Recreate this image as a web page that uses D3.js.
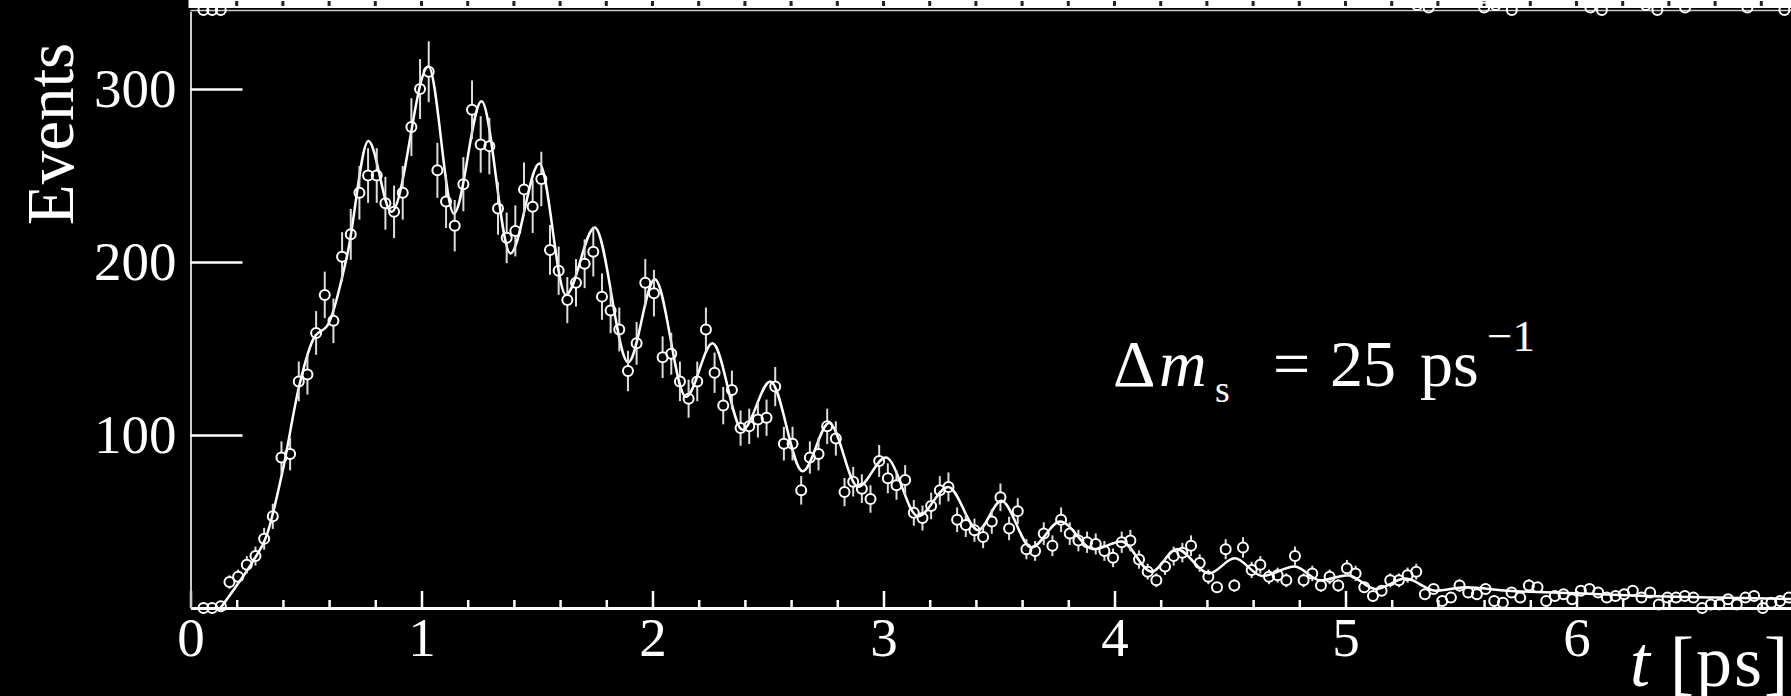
<!DOCTYPE html>
<html>
<head>
  <meta charset="UTF-8">
  <style>
    html, body { margin: 0; padding: 0; background: #000; }
    svg { display: block; }
    text { font-family: "Liberation Serif", "DejaVu Serif", serif; fill: #fff; }
  </style>
</head>
<body>
  <svg></svg>
<script src="https://d3js.org/d3.v7.min.js"></script>

<script>
let width = 1791,
    height = 696;

let svg = d3.select("svg")
    .attr("width", width)
    .attr("height", height);

svg.append("rect")
    .attr("width", width)
    .attr("height", height)
    .attr("fill", "#000");

// proper decay time histogram, bins of 0.0375 ps starting from the second bin
let binWidth = 0.0375;
let firstCenter = 0.05625;

let counts = [
  0, 0, 1, 15, 18, 25, 30, 40, 53, 87,
  89, 131, 135, 159, 181, 166, 203, 216, 240, 250,
  250, 234, 229, 240, 278, 300, 310, 253, 235, 221,
  245, 288, 268, 267, 231, 214, 218, 242, 232, 248,
  207, 195, 178, 188, 199, 206, 180, 172, 161, 137,
  153, 188, 182, 145, 147, 131, 121, 131, 161, 136,
  117, 126, 104, 105, 109, 110, 128, 95, 95, 68,
  87, 89, 105, 98, 67, 73, 69, 63, 85, 75,
  71, 74, 55, 52, 59, 68, 70, 51, 48, 45,
  41, 50, 64, 46, 56, 34, 33, 43, 36, 51,
  43, 39, 38, 37, 33, 29, 38, 39, 28, 21,
  16, 24, 30, 32, 36, 26, 18, 12, 34, 13,
  35, 22, 25, 18, 19, 16, 30, 16, 20, 13,
  18, 13, 23, 20, 12, 7, 10, 16, 16, 19,
  21, 8, 11, 4, 6, 13, 9, 8, 11, 4,
  3, 9, 6, 13, 12, 4, 7, 8, 5, 10,
  11, 9, 6, 7, 8, 10, 6, 9, 2, 6,
  6, 7, 6, 0, 2, 2, 5, 2, 6, 7,
  0, 3, 4, 6
];

// fitted oscillation curve, turning points
let fitT = [0.13, 0.2, 0.27, 0.33, 0.4, 0.47, 0.53, 0.6, 0.68, 0.77,
  0.87, 1.03, 1.14, 1.26, 1.385, 1.51, 1.625, 1.75, 1.895, 2.01,
  2.145, 2.26, 2.39, 2.51, 2.65, 2.765, 2.89, 3.01, 3.15, 3.28,
  3.41, 3.51, 3.64, 3.765, 3.91, 4.03, 4.16, 4.27, 4.41, 4.52,
  4.64, 4.78, 4.89, 5.01, 5.13, 5.26, 5.39, 5.52, 5.7, 6.0,
  6.3, 6.6, 7.0];
let fitV = [0, 13, 27, 42, 80, 128, 155, 165, 205, 270,
  229, 313, 228, 293, 205, 257, 181, 220, 142, 190,
  122, 153, 103, 131, 79, 107, 70, 87, 53, 70,
  45, 62, 35, 50, 34, 38.5, 21, 34, 20, 28.7,
  18.5, 24, 16, 19, 11, 17, 10, 12, 10, 8.5,
  7, 6, 5];

// markers of the panel above that reach down to its baseline
let upperT = [0.056, 0.094, 0.131, 5.31, 5.36, 5.6, 5.65, 5.72, 6.06, 6.11,
  6.3, 6.35, 6.47, 6.74, 6.9];
let upperN = [0, 0, 0, 2, 1, 1, 2, 0, 1, 0, 2, 0, 1, 1, 0];

let xTicks = [0, 1, 2, 3, 4, 5, 6];
let yTicks = [100, 200, 300];

let x = d3.scaleLinear().domain([0, 7]).range([190.5, 190.5 + 7 * 231]);
let y = d3.scaleLinear().domain([0, 345]).range([608, 11.2]);
let yUp = d3.scaleLinear().domain([0, 2]).range([10, 5]);

let data = counts.map((c, i) => ({ t: firstCenter + i * binWidth, n: c }));

// strip belonging to the upper panel
svg.append("rect")
    .attr("x", x(0) - 2)
    .attr("y", 0)
    .attr("width", width - x(0) + 2)
    .attr("height", 8)
    .attr("fill", "#fff");

svg.append("g")
    .selectAll("rect")
    .data(d3.range(0.2, 7, 0.2))
    .enter()
    .append("rect")
    .attr("x", d => x(d) - 1.5)
    .attr("y", 1)
    .attr("width", 3)
    .attr("height", 5)
    .attr("fill", "#222");

svg.append("line")
    .attr("x1", x(0))
    .attr("x2", width)
    .attr("y1", 10.5)
    .attr("y2", 10.5)
    .attr("stroke", "#ccc")
    .attr("stroke-width", 1.5);

svg.append("g")
    .selectAll("circle")
    .data(upperT)
    .enter()
    .append("circle")
    .attr("cx", d => x(d))
    .attr("cy", (d, i) => yUp(upperN[i]))
    .attr("r", 5)
    .attr("fill", "none")
    .attr("stroke", "#fff")
    .attr("stroke-width", 2);

// axes
let xMinor = svg.append("g")
    .attr("transform", "translate(0," + y(0) + ")")
    .call(d3.axisBottom(x)
        .tickValues(d3.range(0.2, 7, 0.2).filter(v => Math.abs(v - Math.round(v)) > 0.01))
        .tickSizeInner(-8)
        .tickSizeOuter(0)
        .tickFormat(""));
xMinor.select(".domain").remove();

let xAxis = svg.append("g")
    .attr("transform", "translate(0," + y(0) + ")")
    .call(d3.axisBottom(x)
        .tickValues(xTicks)
        .tickSizeInner(-17)
        .tickSizeOuter(0)
        .tickPadding(9)
        .tickFormat(d3.format("d")));

let yAxis = svg.append("g")
    .attr("transform", "translate(" + x(0) + ",0)")
    .call(d3.axisLeft(y)
        .tickValues(yTicks)
        .tickSizeInner(-52)
        .tickSizeOuter(0)
        .tickPadding(14)
        .tickFormat(d3.format("d")));

svg.selectAll(".tick line").attr("stroke", "#fff").attr("stroke-width", 2.5);
xAxis.select(".domain").attr("stroke", "#fff").attr("stroke-width", 3);
yAxis.select(".domain").attr("stroke", "#ccc").attr("stroke-width", 2);
svg.selectAll(".tick text")
    .attr("fill", "#fff")
    .style("font-family", "Liberation Serif")
    .style("font-size", "55px");

// fit curve
let line = d3.line()
    .x(d => x(d[0]))
    .y(d => y(d[1]))
    .curve(d3.curveMonotoneX);

svg.append("path")
    .datum(fitT.map((t, i) => [t, fitV[i]]))
    .attr("d", line)
    .attr("fill", "none")
    .attr("stroke", "#fff")
    .attr("stroke-width", 2.5);

// error bars (Poisson), drawn outside the open markers
let r = 5;
let bars = svg.append("g").attr("id", "errors");
data.forEach(d => {
    let e = Math.sqrt(d.n);
    let top = y(d.n + e), bot = y(d.n - e), cy = y(d.n);
    if (cy - top > r + 1) {
        bars.append("line")
            .attr("x1", x(d.t)).attr("x2", x(d.t))
            .attr("y1", top).attr("y2", cy - r)
            .attr("stroke", "#ddd").attr("stroke-width", 2);
        bars.append("line")
            .attr("x1", x(d.t)).attr("x2", x(d.t))
            .attr("y1", cy + r).attr("y2", Math.min(bot, y(0)))
            .attr("stroke", "#ddd").attr("stroke-width", 2);
    }
});

svg.append("g")
    .attr("id", "points")
    .selectAll("circle")
    .data(data)
    .enter()
    .append("circle")
    .attr("cx", d => x(d.t))
    .attr("cy", d => y(d.n))
    .attr("r", r)
    .attr("fill", "none")
    .attr("stroke", "#fff")
    .attr("stroke-width", 2);

// axis titles
svg.append("text")
    .attr("transform", "translate(73,134) rotate(-90)")
    .attr("text-anchor", "middle")
    .style("font-size", "67px")
    .text("Events");

let tl = svg.append("g").style("font-size", "72px");
tl.append("text").attr("x", 1630).attr("y", 686).style("font-style", "italic").text("t");
tl.append("text").attr("x", 1670).attr("y", 686).style("letter-spacing", "2px").text("[ps]");

// oscillation frequency label
let lab = svg.append("g").style("font-size", "66px");
lab.append("text").attr("x", 1113).attr("y", 386).text("\u0394");
lab.append("text").attr("x", 1159).attr("y", 386).style("font-style", "italic").text("m");
lab.append("text").attr("x", 1215).attr("y", 402).style("font-size", "38px").text("s");
lab.append("text").attr("x", 1273).attr("y", 386).text("=");
lab.append("text").attr("x", 1330).attr("y", 386).text("25");
lab.append("text").attr("x", 1420).attr("y", 386).text("ps");
lab.append("text").attr("x", 1487).attr("y", 351).style("font-size", "45px").text("\u22121");
</script>
</body>
</html>
